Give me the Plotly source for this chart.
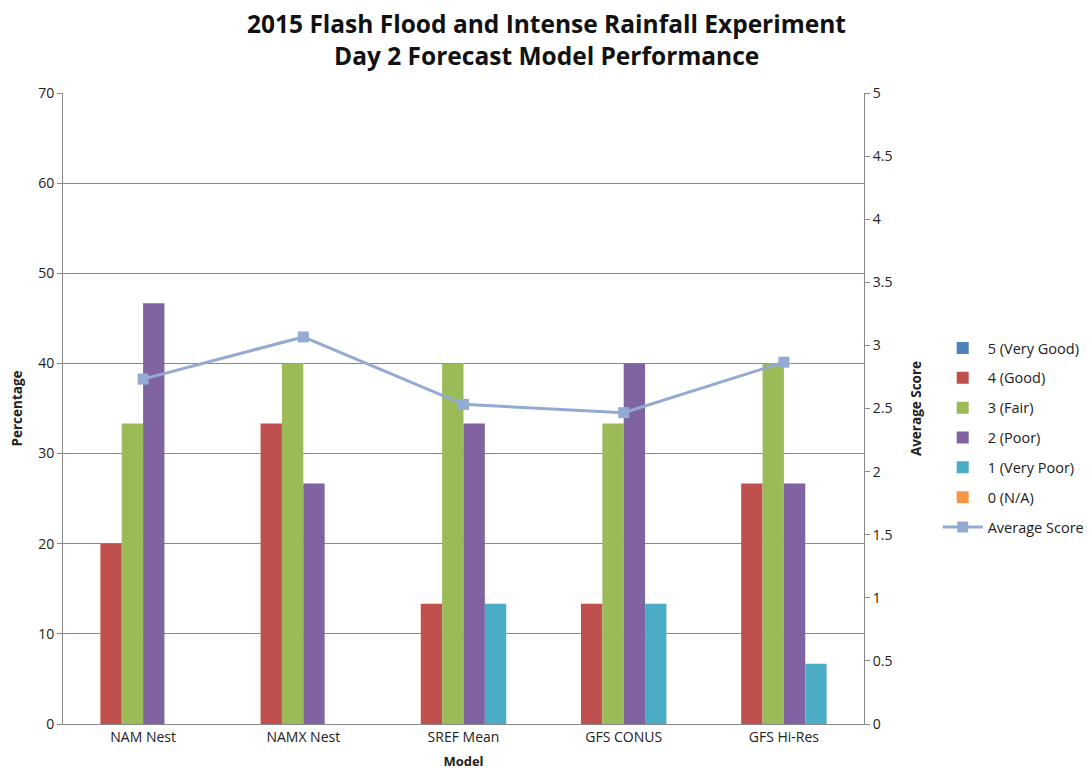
import plotly.graph_objects as go

models = ["NAM Nest", "NAMX Nest", "SREF Mean", "GFS CONUS", "GFS Hi-Res"]
series_names = ["5 (Very Good)", "4 (Good)", "3 (Fair)", "2 (Poor)", "1 (Very Poor)", "0 (N/A)"]
very_good = [0, 0, 0, 0, 0]
good = [20.0, 33.33, 13.33, 13.33, 26.67]
fair = [33.33, 40.0, 40.0, 33.33, 40.0]
poor = [46.67, 26.67, 33.33, 40.0, 26.67]
very_poor = [0, 0, 13.33, 13.33, 6.67]
na = [0, 0, 0, 0, 0]
avg_score = [2.733, 3.067, 2.533, 2.467, 2.867]
title_lines = ["2015 Flash Flood and Intense Rainfall Experiment", "Day 2 Forecast Model Performance"]

colors = ["#4F81BD", "#C0504D", "#9BBB59", "#8064A2", "#4BACC6", "#F79646"]
font = "Open Sans, Liberation Sans, sans-serif"

fig = go.Figure()
for i, (name, vals) in enumerate(zip(series_names, [very_good, good, fair, poor, very_poor, na])):
    fig.add_trace(go.Bar(x=models, y=vals, name=name, marker_color=colors[i],
                         marker_line_width=0, legendgroup=f"g{i}"))
fig.add_trace(go.Scatter(x=models, y=avg_score, name="Average Score)", yaxis="y2",
                         mode="lines+markers", line=dict(color="#93AAD2", width=3),
                         marker=dict(symbol="square", size=11, color="#93AAD2"),
                         legendgroup="g6"))

for ty, line in zip([1.1094, 1.0602], title_lines):
    fig.add_annotation(text=f"<b>{line}</b>", x=0.603, y=ty, xref="paper", yref="paper",
                       xanchor="center", yanchor="middle", showarrow=False, borderpad=0,
                       font=dict(size=24.5, color="#111"))

fig.update_layout(
    width=1091, height=778,
    paper_bgcolor="white", plot_bgcolor="white",
    font=dict(family=font, color="#222", size=13),
    margin=dict(l=55, r=235, t=85, b=62, autoexpand=False),
    barmode="group", bargap=0.2, bargroupgap=0,
    xaxis=dict(title=dict(text="<b>Model</b>", font=dict(size=13), standoff=12),
               automargin=False,
               showline=True, linecolor="#8a8a8a", linewidth=1,
               ticks="outside", ticklen=0, tickfont=dict(size=14)),
    yaxis=dict(title=dict(text="<b>Percentage</b>", font=dict(size=13.5), standoff=18),
               automargin=False,
               range=[0, 70], dtick=10, showgrid=True, gridcolor="#8a8a8a", gridwidth=1,
               showline=True, linecolor="#8a8a8a", ticks="outside", ticklen=5,
               tickcolor="#8a8a8a", tickfont=dict(size=14), zeroline=False),
    yaxis2=dict(title=dict(text="<b>Average Score</b>", font=dict(size=13.5), standoff=20),
                automargin=False,
                overlaying="y", side="right", range=[0, 5], dtick=0.5,
                showgrid=False, showline=True, linecolor="#8a8a8a", ticks="outside",
                ticklen=5, tickcolor="#8a8a8a", tickfont=dict(size=14), zeroline=False),
    legend=dict(x=1.092, xanchor="left", y=0.454, yanchor="middle",
                font=dict(size=14.5), tracegroupgap=8, itemwidth=40,
                bgcolor="rgba(0,0,0,0)"),
)

fig.write_html("out.html")
